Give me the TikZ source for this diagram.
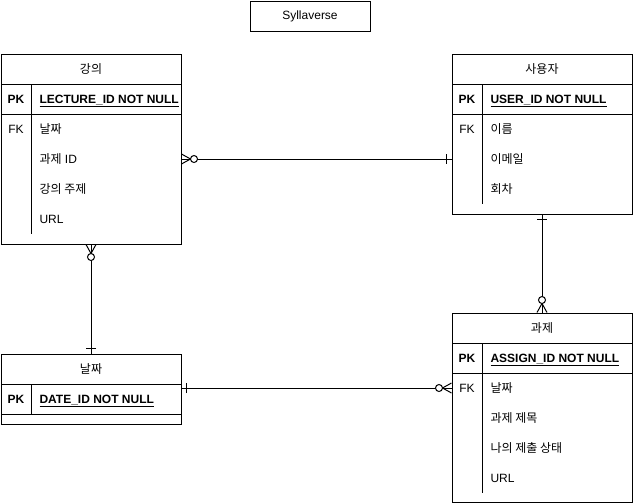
\documentclass[12pt,tikz,border=0pt]{standalone}
\usepackage{fontspec}
\setmainfont{Liberation Sans}
\newfontfamily\kr{Noto Sans CJK KR}
\usetikzlibrary{arrows.meta}

% zero-or-many end (crow's foot + circle)
\pgfdeclarearrow{
  name = ERmany,
  setup code = {
    \pgfarrowssettipend{0pt}
    \pgfarrowssetlineend{0pt}
    \pgfarrowssetbackend{-16pt}
    \pgfarrowshullpoint{0pt}{5pt}
    \pgfarrowshullpoint{0pt}{-5pt}
    \pgfarrowshullpoint{-16pt}{0pt}
  },
  drawing code = {
    \pgfpathmoveto{\pgfqpoint{0pt}{5pt}}
    \pgfpathlineto{\pgfqpoint{-9pt}{0pt}}
    \pgfpathlineto{\pgfqpoint{0pt}{-5pt}}
    \pgfusepathqstroke
    \pgfpathcircle{\pgfqpoint{-12.5pt}{0pt}}{3.5pt}
    \pgfusepathqfillstroke
  }
}
% exactly-one end (single bar)
\pgfdeclarearrow{
  name = ERone,
  setup code = {
    \pgfarrowssettipend{0pt}
    \pgfarrowssetlineend{0pt}
    \pgfarrowssetbackend{-6pt}
    \pgfarrowshullpoint{-5pt}{5pt}
    \pgfarrowshullpoint{-5pt}{-5pt}
  },
  drawing code = {
    \pgfpathmoveto{\pgfqpoint{-5pt}{5pt}}
    \pgfpathlineto{\pgfqpoint{-5pt}{-5pt}}
    \pgfusepathqstroke
  }
}

\begin{document}
\begin{tikzpicture}[x=1pt, y=-1pt, line width=1pt]
  % ---- Styles ----
  \tikzset{
    box/.style={draw, minimum width=180pt, inner sep=0pt},
    head/.style={box, minimum height=30pt, font=\kr, text height=10pt, text depth=1.5pt},
    keyrow/.style={box, minimum height=30pt},
    tag/.style={inner sep=0pt, text height=10pt, text depth=1.5pt},
    field/.style={anchor=west, inner sep=0pt, text height=10pt, text depth=1.5pt},
    manyone/.style={arrows={ERmany[fill=white]}-{ERone}},
    onemany/.style={arrows={ERone}-{ERmany[fill=white]}},
  }

  \useasboundingbox (0,0) rectangle (633,504);

  % ---- Title ----
  \node[draw, minimum width=120pt, minimum height=30pt, inner sep=0pt] (title) at (310,16) {Syllaverse};

  % ---- 강의 ----
  \node[head] (lecH) at (91,69) {강의};
  \node[keyrow] (lecPK) at (91,99) {};
  \node[box, minimum height=130pt] (lecB) at (91,179) {};
  \draw (31,84) -- (31,234);
  \node[tag] (lecPKt) at (16,99) {\textbf{PK}};
  \node[field] (lecPKf) at (39,99) {\underline{\textbf{LECTURE\_ID NOT NULL}}};
  \node[tag] (lecFK) at (16,129) {FK};
  \foreach \t [count=\i] in {{\kr 날짜},{{\kr 과제} ID},{\kr 강의 주제},URL}
    \node[field] (lecR\i) at (39,99+30*\i) {\t};

  % ---- 사용자 ----
  \node[head] (usrH) at (542,69) {사용자};
  \node[keyrow] (usrPK) at (542,99) {};
  \node[box, minimum height=100pt] (usrB) at (542,164) {};
  \draw (482,84) -- (482,204);
  \node[tag] (usrPKt) at (467,99) {\textbf{PK}};
  \node[field] (usrPKf) at (490,99) {\underline{\textbf{USER\_ID NOT NULL}}};
  \node[tag] (usrFK) at (467,129) {FK};
  \foreach \t [count=\i] in {{\kr 이름},{\kr 이메일},{\kr 회차}}
    \node[field] (usrR\i) at (490,99+30*\i) {\t};

  % ---- 날짜 ----
  \node[head] (dateH) at (91,369) {날짜};
  \node[keyrow] (datePK) at (91,399) {};
  \node[box, minimum height=10pt] (dateB) at (91,419) {};
  \draw (31,384) -- (31,414);
  \node[tag] (datePKt) at (16,399) {\textbf{PK}};
  \node[field] (datePKf) at (39,399) {\underline{\textbf{DATE\_ID NOT NULL}}};

  % ---- 과제 ----
  \node[head] (asgH) at (542,328) {과제};
  \node[keyrow] (asgPK) at (542,358) {};
  \node[box, minimum height=129pt] (asgB) at (542,437.5) {};
  \draw (482,343) -- (482,493);
  \node[tag] (asgPKt) at (467,358) {\textbf{PK}};
  \node[field] (asgPKf) at (490,358) {\underline{\textbf{ASSIGN\_ID NOT NULL}}};
  \node[tag] (asgFK) at (467,388) {FK};
  \foreach \t [count=\i] in {{\kr 날짜},{\kr 과제 제목},{\kr 나의 제출 상태},URL}
    \node[field] (asgR\i) at (490,358+30*\i) {\t};

  % ---- Relations ----
  \draw[manyone] (lecR2 -| lecB.east) -- (usrR2 -| usrB.west);
  \draw[manyone] (lecB.south) -- (dateH.north);
  \draw[onemany] (usrB.south) -- (asgH.north);
  \draw[onemany] (datePK.east |- asgR1) -- (asgR1 -| asgB.west);

\end{tikzpicture}
\end{document}
